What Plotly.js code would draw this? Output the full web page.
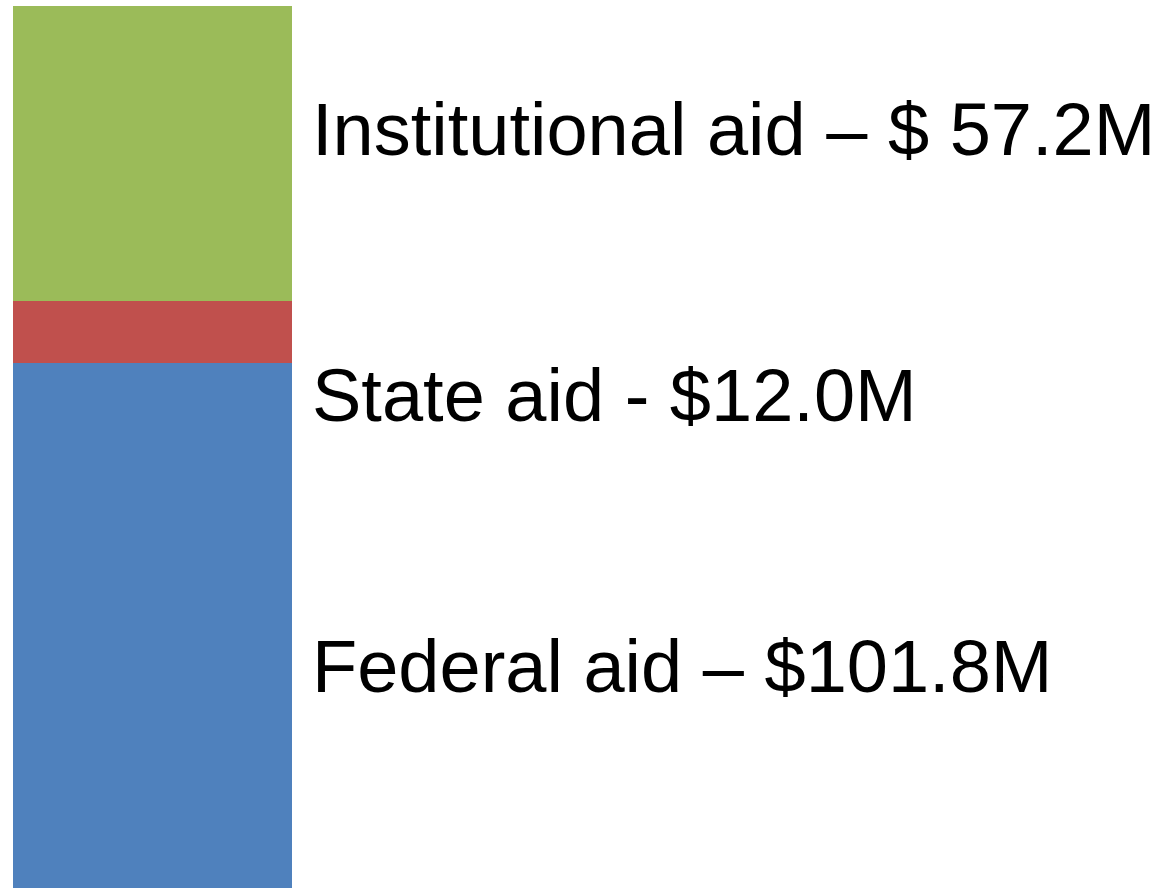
<!DOCTYPE html>
<html>
<head>
<meta charset="utf-8">
<script src="https://cdn.plot.ly/plotly-3.0.1.min.js"></script>
<style>
  html, body { margin: 0; padding: 0; background: #ffffff; }
  #chart { width: 1167px; height: 889px; }
</style>
</head>
<body>
<div id="chart"></div>
<script>
// Data
const categories = ['Federal aid', 'State aid', 'Institutional aid'];
const values = [101.8, 12.0, 57.2];
const labelTexts = ['Federal aid – $101.8M', 'State aid - $12.0M', 'Institutional aid – $ 57.2M'];
const colors = ['#4F81BD', '#C0504D', '#9BBB59'];

// Label layout (paper y of each text's centre)
const labelY = [0.2506, 0.558, 0.8605];

const traces = categories.map((c, i) => ({
  type: 'bar',
  name: c,
  x: [0],
  y: [values[i]],
  width: 1,
  marker: { color: colors[i], line: { width: 0 } },
  hoverinfo: 'name+y'
}));

const total = values.reduce((a, b) => a + b, 0);

const annotations = labelTexts.map((t, i) => ({
  text: t,
  xref: 'paper', yref: 'paper',
  x: 0.2574, y: labelY[i],
  xanchor: 'left', yanchor: 'middle',
  showarrow: false,
  font: { family: 'Liberation Sans, Arial, sans-serif', size: 74, color: '#000000' }
}));

const layout = {
  width: 1167, height: 889,
  margin: { l: 13, r: 0, t: 6, b: 1, pad: 0 },
  barmode: 'stack',
  showlegend: false,
  paper_bgcolor: '#ffffff',
  plot_bgcolor: '#ffffff',
  xaxis: { range: [-0.5, -0.5 + 1154 / 279], visible: false, fixedrange: true },
  yaxis: { range: [0, total], visible: false, fixedrange: true },
  annotations: annotations
};

Plotly.newPlot('chart', traces, layout, { displayModeBar: false, staticPlot: true });
</script>
</body>
</html>
